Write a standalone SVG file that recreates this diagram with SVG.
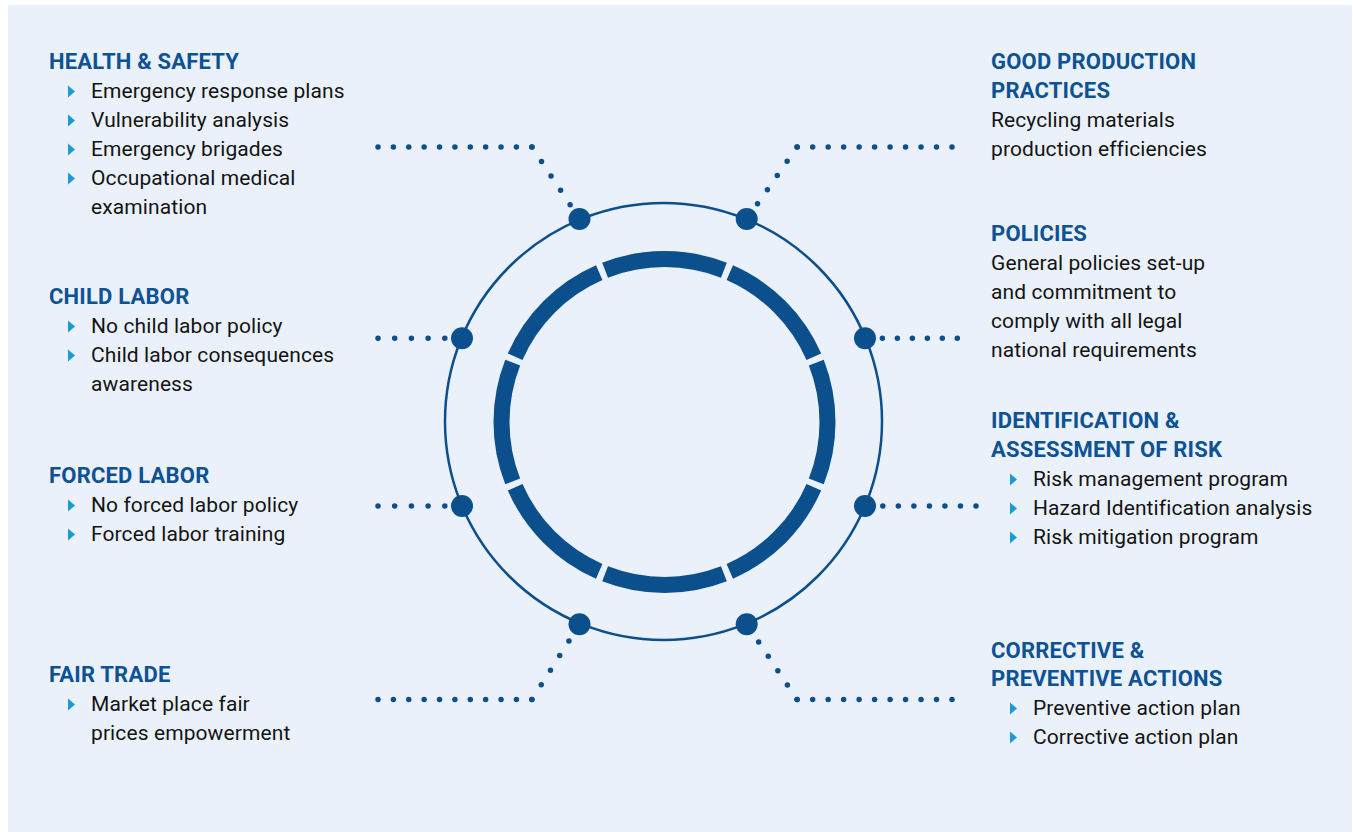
<svg xmlns="http://www.w3.org/2000/svg" xmlns:xlink="http://www.w3.org/1999/xlink" width="1353" height="832" viewBox="0 0 1353 832">
  <style>
    .panel { fill: #EAF1FA; }
    .head { font-family: Roboto, "Liberation Sans", sans-serif; font-weight: 700; font-size: 22px; letter-spacing: 0.2px; fill: #0D5294; }
    .body { font-family: Roboto, "Liberation Sans", sans-serif; font-weight: 400; font-size: 21px; letter-spacing: 0.1px; fill: #141414; }
    .bullet { fill: #1B9AD6; }
    .ring { fill: none; stroke: #0B4F8C; }
    .hub { fill: #0B4F8C; }
    .dots { fill: none; stroke: #0B4F8C; stroke-width: 5.5; stroke-linecap: round; }
  </style>
  <defs>
    <path id="tri" d="M0 -6 L7 0 L0 6 Z"/>
  </defs>

  <rect class="panel" x="8" y="5" width="1344" height="827"/>

  <!-- central wheel -->
  <g id="wheel">
    <circle class="ring" cx="663.5" cy="421.5" r="218.5" stroke-width="2.5"/>
    <circle class="ring" cx="664.5" cy="422" r="163" stroke-width="16" pathLength="800" stroke-dasharray="95 5" stroke-dashoffset="47.5"/>
  </g>

  <!-- dotted leaders -->
  <g id="connectors">
    <path class="dots" stroke-dasharray="0 15.38" d="M378 147 H532.5"/>
    <path class="dots" stroke-dasharray="0 17.3" d="M532 147 L579.5 219"/>
    <path class="dots" stroke-dasharray="0 15.48" d="M952 147 H796.5"/>
    <path class="dots" stroke-dasharray="0 17.3" d="M797 147 L747 219"/>
    <path class="dots" stroke-dasharray="0 16.7" d="M378 338.3 H446"/>
    <path class="dots" stroke-dasharray="0 14.98" d="M957.3 338.3 H881.8"/>
    <path class="dots" stroke-dasharray="0 16.7" d="M378 506 H446"/>
    <path class="dots" stroke-dasharray="0 15.53" d="M976 506 H882.2"/>
    <path class="dots" stroke-dasharray="0 15.38" d="M378 699.5 H532.5"/>
    <path class="dots" stroke-dasharray="0 17.3" d="M532 699.5 L579.5 624.3"/>
    <path class="dots" stroke-dasharray="0 15.48" d="M952 699.5 H796.5"/>
    <path class="dots" stroke-dasharray="0 17.3" d="M797 699.5 L747 624.3"/>
    <circle class="hub" cx="579.5" cy="219" r="11"/>
    <circle class="hub" cx="746.7" cy="219" r="11"/>
    <circle class="hub" cx="462" cy="338.3" r="11"/>
    <circle class="hub" cx="865" cy="338.3" r="11"/>
    <circle class="hub" cx="462" cy="506" r="11"/>
    <circle class="hub" cx="865" cy="506" r="11"/>
    <circle class="hub" cx="579.5" cy="624.3" r="11"/>
    <circle class="hub" cx="746.7" cy="624.3" r="11"/>
  </g>

  <g id="health-safety">
    <text class="head" x="49" y="69">HEALTH &amp; SAFETY</text>
    <use class="bullet" href="#tri" x="68" y="91.5"/>
    <text class="body" x="91" y="98">Emergency response plans</text>
    <use class="bullet" href="#tri" x="68" y="120.5"/>
    <text class="body" x="91" y="127">Vulnerability analysis</text>
    <use class="bullet" href="#tri" x="68" y="149.5"/>
    <text class="body" x="91" y="156">Emergency brigades</text>
    <use class="bullet" href="#tri" x="68" y="178.5"/>
    <text class="body" x="91" y="185">Occupational medical</text>
    <text class="body" x="91" y="214">examination</text>
  </g>

  <g id="child-labor">
    <text class="head" x="49" y="304">CHILD LABOR</text>
    <use class="bullet" href="#tri" x="68" y="326.5"/>
    <text class="body" x="91" y="333">No child labor policy</text>
    <use class="bullet" href="#tri" x="68" y="355.5"/>
    <text class="body" x="91" y="362">Child labor consequences</text>
    <text class="body" x="91" y="391">awareness</text>
  </g>

  <g id="forced-labor">
    <text class="head" x="49" y="483">FORCED LABOR</text>
    <use class="bullet" href="#tri" x="68" y="505.5"/>
    <text class="body" x="91" y="512">No forced labor policy</text>
    <use class="bullet" href="#tri" x="68" y="534.5"/>
    <text class="body" x="91" y="541">Forced labor training</text>
  </g>

  <g id="fair-trade">
    <text class="head" x="49" y="682">FAIR TRADE</text>
    <use class="bullet" href="#tri" x="68" y="704.5"/>
    <text class="body" x="91" y="711">Market place fair</text>
    <text class="body" x="91" y="740">prices empowerment</text>
  </g>

  <g id="good-production">
    <text class="head" x="991" y="69">GOOD PRODUCTION</text>
    <text class="head" x="991" y="98">PRACTICES</text>
    <text class="body" x="991" y="127">Recycling materials</text>
    <text class="body" x="991" y="156">production efficiencies</text>
  </g>

  <g id="policies">
    <text class="head" x="991" y="241">POLICIES</text>
    <text class="body" x="991" y="270">General policies set-up</text>
    <text class="body" x="991" y="299">and commitment to</text>
    <text class="body" x="991" y="328">comply with all legal</text>
    <text class="body" x="991" y="357">national requirements</text>
  </g>

  <g id="risk-assessment">
    <text class="head" x="991" y="428">IDENTIFICATION &amp;</text>
    <text class="head" x="991" y="457">ASSESSMENT OF RISK</text>
    <use class="bullet" href="#tri" x="1010" y="479.5"/>
    <text class="body" x="1033" y="486">Risk management program</text>
    <use class="bullet" href="#tri" x="1010" y="508.5"/>
    <text class="body" x="1033" y="515">Hazard Identification analysis</text>
    <use class="bullet" href="#tri" x="1010" y="537.5"/>
    <text class="body" x="1033" y="544">Risk mitigation program</text>
  </g>

  <g id="corrective-preventive">
    <text class="head" x="991" y="658">CORRECTIVE &amp;</text>
    <text class="head" x="991" y="686">PREVENTIVE ACTIONS</text>
    <use class="bullet" href="#tri" x="1010" y="708.5"/>
    <text class="body" x="1033" y="715">Preventive action plan</text>
    <use class="bullet" href="#tri" x="1010" y="737.5"/>
    <text class="body" x="1033" y="744">Corrective action plan</text>
  </g>
</svg>
